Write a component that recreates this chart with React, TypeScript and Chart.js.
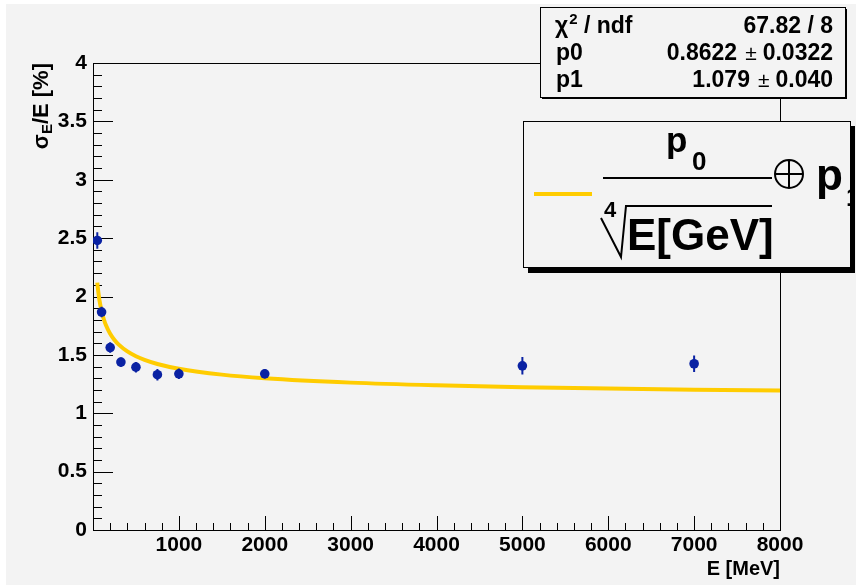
import React, { useEffect, useRef } from "react";
import { Chart, registerables } from "chart.js";

Chart.register(...registerables);

// ---- data ----
const energyMeV = [50, 100, 200, 325, 500, 750, 1000, 2000, 5000, 7000];
const resolutionPct = [2.48, 1.867, 1.563, 1.438, 1.395, 1.33, 1.338, 1.338, 1.406, 1.424];
const resolutionErr = [0.07, 0.045, 0.045, 0.04, 0.045, 0.05, 0.045, 0.04, 0.075, 0.07];

// fit curve samples (p0 = 0.8622, p1 = 1.079)
const fitEnergyMeV = [50, 60, 75, 100, 125, 150, 200, 250, 300, 400, 500, 600, 750, 1000, 1500, 2000, 3000, 4000, 5000, 6000, 7000, 8000];
const fitValues = [2.1187, 2.0492, 1.9695, 1.8749, 1.8075, 1.7561, 1.6812, 1.6282, 1.5879, 1.5296, 1.4885, 1.4574, 1.4222, 1.3812, 1.3309, 1.3, 1.2623, 1.2393, 1.2234, 1.2115, 1.2022, 1.1946];

const xTickValues = [0, 1000, 2000, 3000, 4000, 5000, 6000, 7000, 8000];
const xTickLabels = ["", "1000", "2000", "3000", "4000", "5000", "6000", "7000", "8000"];
const yTickValues = [0, 0.5, 1, 1.5, 2, 2.5, 3, 3.5, 4];
const yTickLabels = ["0", "0.5", "1", "1.5", "2", "2.5", "3", "3.5", "4"];

const statsRows = [
  { name: "ndf", value: "67.82 / 8" },
  { name: "p0", value: "0.8622", err: "0.0322" },
  { name: "p1", value: "1.079", err: "0.040" },
];

const BG = "#f3f3f3";
const FONT = "'Liberation Sans', Arial, sans-serif";
const MARKER = "#0a22a3";
const FIT = "#ffcc00";

const rootPlugin = {
  id: "rootStyle",
  beforeDraw(chart: any) {
    const ctx = chart.ctx;
    ctx.save();
    ctx.fillStyle = "#ffffff";
    ctx.fillRect(0, 0, chart.width, chart.height);
    ctx.fillStyle = BG;
    ctx.fillRect(6, 4, chart.width - 6, chart.height - 4);
    ctx.restore();
  },
  beforeDatasetsDraw(chart: any) {
    const ctx = chart.ctx;
    const { left, right, top, bottom } = chart.chartArea;
    const xs = chart.scales.x;
    const ys = chart.scales.y;
    ctx.save();
    ctx.strokeStyle = "#000";
    ctx.lineWidth = 1;
    ctx.strokeRect(Math.round(left) + 0.5, Math.round(top) + 0.5, Math.round(right - left), Math.round(bottom - top));
    ctx.beginPath();
    for (let v = 0; v <= 8000; v += 200) {
      const px = Math.round(xs.getPixelForValue(v)) + 0.5;
      const len = v % 1000 === 0 ? 14 : 7;
      ctx.moveTo(px, bottom);
      ctx.lineTo(px, bottom - len);
    }
    for (let i = 0; i <= 40; i++) {
      const v = i / 10;
      const py = Math.round(ys.getPixelForValue(v)) + 0.5;
      const len = i % 5 === 0 ? 20 : 9;
      ctx.moveTo(left, py);
      ctx.lineTo(left + len, py);
    }
    ctx.stroke();
    ctx.restore();
  },
  afterDatasetsDraw(chart: any) {
    const ctx = chart.ctx;
    const xs = chart.scales.x;
    const ys = chart.scales.y;
    ctx.save();
    ctx.strokeStyle = MARKER;
    ctx.lineWidth = 2;
    ctx.beginPath();
    energyMeV.forEach((e, i) => {
      const px = xs.getPixelForValue(e);
      ctx.moveTo(px, ys.getPixelForValue(resolutionPct[i] - resolutionErr[i]));
      ctx.lineTo(px, ys.getPixelForValue(resolutionPct[i] + resolutionErr[i]));
    });
    ctx.stroke();
    ctx.restore();
  },
  afterDraw(chart: any) {
    const ctx = chart.ctx;
    ctx.save();
    ctx.fillStyle = "#000";
    ctx.textAlign = "left";
    ctx.textBaseline = "alphabetic";

    // y title
    const mainF = `bold 22px ${FONT}`;
    const subF = `bold 15px ${FONT}`;
    ctx.font = mainF;
    const wSig = ctx.measureText("σ").width;
    const wRest = ctx.measureText("/E [%]").width;
    ctx.font = subF;
    const wSub = ctx.measureText("E").width;
    const total = wSig + wSub + wRest;
    ctx.save();
    ctx.translate(48, 63 + total);
    ctx.rotate(-Math.PI / 2);
    ctx.font = mainF;
    ctx.fillText("σ", 0, 0);
    ctx.font = subF;
    ctx.fillText("E", wSig, 4);
    ctx.font = mainF;
    ctx.fillText("/E [%]", wSig + wSub, 0);
    ctx.restore();

    // x title
    ctx.font = `bold 20px ${FONT}`;
    ctx.textAlign = "right";
    ctx.fillText("E [MeV]", 780, 575);
    ctx.textAlign = "left";

    // stats box
    const sx = 540, sy = 7, sw = 305, sh = 90;
    ctx.fillStyle = "#000";
    ctx.fillRect(sx + 2, sy + 2, sw, sh);
    ctx.fillStyle = BG;
    ctx.fillRect(sx, sy, sw, sh);
    ctx.strokeStyle = "#000";
    ctx.lineWidth = 1;
    ctx.strokeRect(sx + 0.5, sy + 0.5, sw, sh);
    ctx.fillStyle = "#000";
    const sF = `bold 23px ${FONT}`;
    const baselines = [33, 60, 87];
    // row 1
    ctx.font = sF;
    ctx.fillText("χ", 555, baselines[0]);
    const wChi = ctx.measureText("χ").width;
    ctx.font = `bold 15px ${FONT}`;
    ctx.fillText("2", 555 + wChi + 1, baselines[0] - 9);
    const w2 = ctx.measureText("2").width;
    ctx.font = sF;
    ctx.fillText(" / " + statsRows[0].name, 555 + wChi + 1 + w2, baselines[0]);
    ctx.textAlign = "right";
    ctx.fillText(statsRows[0].value, 833, baselines[0]);
    for (let r = 1; r < 3; r++) {
      const row = statsRows[r];
      const b = baselines[r];
      ctx.textAlign = "left";
      ctx.font = sF;
      ctx.fillText(row.name, 556, b);
      ctx.textAlign = "right";
      ctx.fillText(row.err as string, 833, b);
      let xr = 833 - ctx.measureText(row.err as string).width - 6;
      ctx.font = `21px ${FONT}`;
      ctx.fillText("±", xr, b);
      xr -= ctx.measureText("±").width + 8;
      ctx.font = sF;
      ctx.fillText(row.value, xr, b);
    }
    ctx.textAlign = "left";

    // legend box
    const lx = 523, ly = 121, lw = 327, lh = 146;
    ctx.fillStyle = "#000";
    ctx.fillRect(lx + 5, ly + 5, lw, lh + 1);
    ctx.fillStyle = BG;
    ctx.fillRect(lx, ly, lw, lh);
    ctx.strokeRect(lx + 0.5, ly + 0.5, lw, lh);
    ctx.save();
    ctx.beginPath();
    ctx.rect(lx + 1, ly + 1, lw - 1, lh - 1);
    ctx.clip();
    // yellow line sample
    ctx.strokeStyle = FIT;
    ctx.lineWidth = 4;
    ctx.beginPath();
    ctx.moveTo(534, 194);
    ctx.lineTo(592, 194);
    ctx.stroke();
    ctx.fillStyle = "#000";
    ctx.strokeStyle = "#000";
    // numerator p_0
    ctx.font = `bold 35px ${FONT}`;
    ctx.fillText("p", 666, 152);
    ctx.font = `bold 26px ${FONT}`;
    ctx.fillText("0", 692, 170);
    // fraction bar
    ctx.lineWidth = 2;
    ctx.beginPath();
    ctx.moveTo(603, 178);
    ctx.lineTo(772, 178);
    ctx.stroke();
    // oplus
    ctx.beginPath();
    ctx.arc(789, 174, 14, 0, Math.PI * 2);
    ctx.moveTo(775, 174);
    ctx.lineTo(803, 174);
    ctx.moveTo(789, 160);
    ctx.lineTo(789, 188);
    ctx.stroke();
    // p_1 (clipped by the box edge)
    ctx.font = `bold 44px ${FONT}`;
    ctx.fillText("p", 816, 190);
    ctx.font = `bold 26px ${FONT}`;
    ctx.fillText("1", 846, 206);
    // radical with index 4
    ctx.font = `bold 22px ${FONT}`;
    ctx.fillText("4", 604, 217);
    ctx.beginPath();
    ctx.moveTo(601, 218);
    ctx.lineTo(621, 257);
    ctx.lineTo(626, 206);
    ctx.lineTo(772, 206);
    ctx.stroke();
    ctx.font = `bold 44px ${FONT}`;
    ctx.fillText("E[GeV]", 627, 250);
    ctx.restore();

    ctx.restore();
  },
};

export default function App() {
  const ref = useRef<HTMLCanvasElement | null>(null);
  useEffect(() => {
    if (!ref.current) return;
    const tickFont = { family: FONT, size: 21, weight: "bold" as const };
    const chart = new Chart(ref.current, {
      type: "scatter",
      data: {
        datasets: [
          {
            label: "data",
            data: energyMeV.map((e, i) => ({ x: e, y: resolutionPct[i] })),
            backgroundColor: MARKER,
            borderColor: MARKER,
            pointRadius: 4.8,
            pointBorderWidth: 0,
            showLine: false,
          },
          {
            label: "fit",
            data: fitEnergyMeV.map((e, i) => ({ x: e, y: fitValues[i] })),
            borderColor: FIT,
            borderWidth: 4,
            pointRadius: 0,
            showLine: true,
            tension: 0.3,
            cubicInterpolationMode: "monotone",
          } as any,
        ],
      },
      options: {
        animation: false,
        responsive: false,
        maintainAspectRatio: false,
        events: [],
        layout: { padding: { left: 0, right: 76, top: 63, bottom: 0 } },
        plugins: { legend: { display: false }, tooltip: { enabled: false }, title: { display: false } },
        scales: {
          x: {
            type: "linear",
            min: 0,
            max: 8000,
            grid: { display: false, drawTicks: false },
            border: { display: false },
            afterBuildTicks: (s: any) => {
              s.ticks = xTickValues.map((v) => ({ value: v }));
            },
            afterFit: (s: any) => {
              s.height = 55;
            },
            ticks: {
              font: tickFont,
              color: "#000",
              padding: 3,
              autoSkip: false,
              maxRotation: 0,
              callback: (_v: any, i: number) => xTickLabels[i],
            },
          },
          y: {
            type: "linear",
            min: 0,
            max: 4,
            grid: { display: false, drawTicks: false },
            border: { display: false },
            afterBuildTicks: (s: any) => {
              s.ticks = yTickValues.map((v) => ({ value: v }));
            },
            afterFit: (s: any) => {
              s.width = 93;
            },
            ticks: {
              font: tickFont,
              color: "#000",
              padding: 6,
              autoSkip: false,
              callback: (_v: any, i: number) => yTickLabels[i],
            },
          },
        },
      },
      plugins: [rootPlugin],
    });
    return () => chart.destroy();
  }, []);
  return (
    <div style={{ position: "absolute", left: 0, top: 0, width: 856, height: 585 }}>
      <canvas ref={ref} width={856} height={585} style={{ display: "block", width: 856, height: 585 }} />
    </div>
  );
}
